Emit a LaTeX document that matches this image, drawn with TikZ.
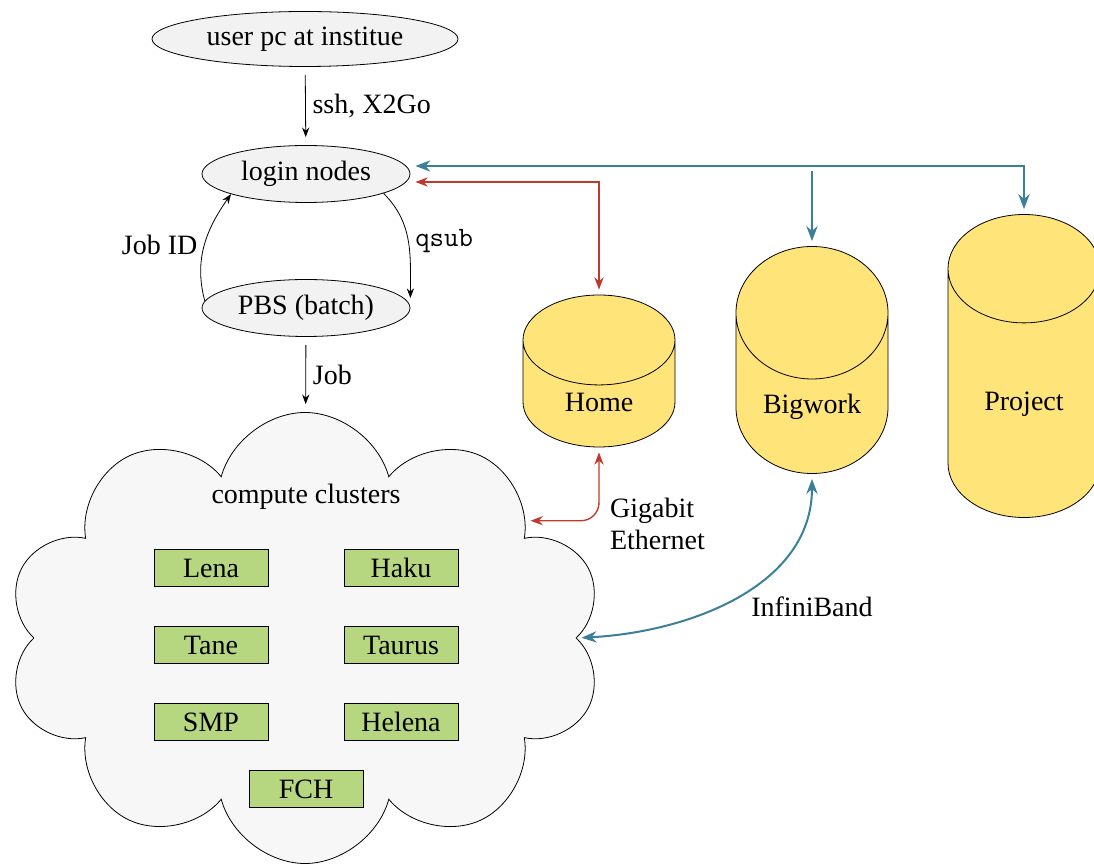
\documentclass[tikz,border=0pt]{standalone}
\usepackage{fontspec}
\setmainfont{Liberation Serif}
\usetikzlibrary{shapes.geometric,shapes.symbols,arrows.meta,positioning}
\definecolor{diskyellow}{RGB}{255,228,122}
\definecolor{clustergreen}{RGB}{182,215,128}
\definecolor{ibblue}{RGB}{60,127,153}
\definecolor{gbred}{RGB}{192,57,43}
\tikzset{
  host/.style={ellipse,draw,fill=black!5,minimum width=104pt,minimum height=28.5pt,inner sep=1pt},
  disk/.style={cylinder,shape border rotate=90,draw,fill=diskyellow,minimum width=76pt,anchor=shape center},
  cluster/.style={rectangle,draw,fill=clustergreen,minimum width=57pt,minimum height=18.5pt},
  flow/.style={-{Stealth},shorten >=4pt,shorten <=4pt},
  gblink/.style={gbred,line width=0.7pt,{Stealth}-{Stealth},shorten >=2.5pt,shorten <=2.5pt},
  iblink/.style={ibblue,line width=1pt,{Stealth}-{Stealth},shorten >=2.5pt,shorten <=2.5pt},
}
\begin{document}
\begin{tikzpicture}[x=0.5pt,y=-0.5pt,font=\fontsize{14}{16}\selectfont]
\useasboundingbox (0,0) rectangle (1094,865);
% hosts
\node[host,minimum width=153pt,minimum height=27.5pt] (user) at (305,39) {user pc at institue};
\node[host] (login) at (306,174) {login nodes};
\node[host] (pbs) at (306,308) {PBS (batch)};
% compute clusters
\node[cloud,cloud puffs=10,cloud ignores aspect,draw,fill=black!3,minimum width=298pt,minimum height=225.5pt] (cloud) at (305,638) {};
\node (cc) at (306,497) {compute clusters};
\node[cluster] (lena) at (211,568) {Lena};
\node[cluster] (haku) at (401,568) {Haku};
\node[cluster] (tane) at (211,645) {Tane};
\node[cluster] (taurus) at (401,645) {Taurus};
\node[cluster] (smp) at (211,722) {SMP};
\node[cluster] (helena) at (401,722) {Helena};
\node[cluster] (fch) at (306,789) {FCH};
% storage
\node[disk,aspect=1.1,minimum height=76pt] (home) at (599,371) {Home};
\node[disk,aspect=1.19,minimum height=113.5pt] (bigwork) at (812,360) {Bigwork};
\node[disk,aspect=1.17,minimum height=151.5pt] (project) at (1024,366) {Project};
% jobs
\draw[flow] (user) -- node[right] {ssh, X2Go} (login);
\draw[flow] (pbs) -- node[right] {Job} (cloud);
\draw[-{Stealth}] (login.-14) to[out=-45,in=90] node[right] {\texttt{qsub}} ([yshift=5pt]pbs.east);
\draw[-{Stealth}] (pbs.176) to[out=105,in=235] node[left] {Job ID} (login.-165);
% file systems
\draw[gblink] ([yshift=-4pt]login.east) -| (home.north);
\draw[gblink,rounded corners=9pt] (home.south) |- (cloud.28);
\node[anchor=west,align=left] (gbe) at (603,524) {Gigabit\\Ethernet};
\draw[iblink] ([yshift=4pt]login.east) -| (project.north);
\draw[iblink,-{Stealth}] (login.east -| bigwork.north) ++(0,-8) -- (bigwork.north);
\draw[iblink] (cloud.east) to[out=3,in=-90] (bigwork.south);
\node (ib) at (812,607) {InfiniBand};
\end{tikzpicture}
\end{document}
